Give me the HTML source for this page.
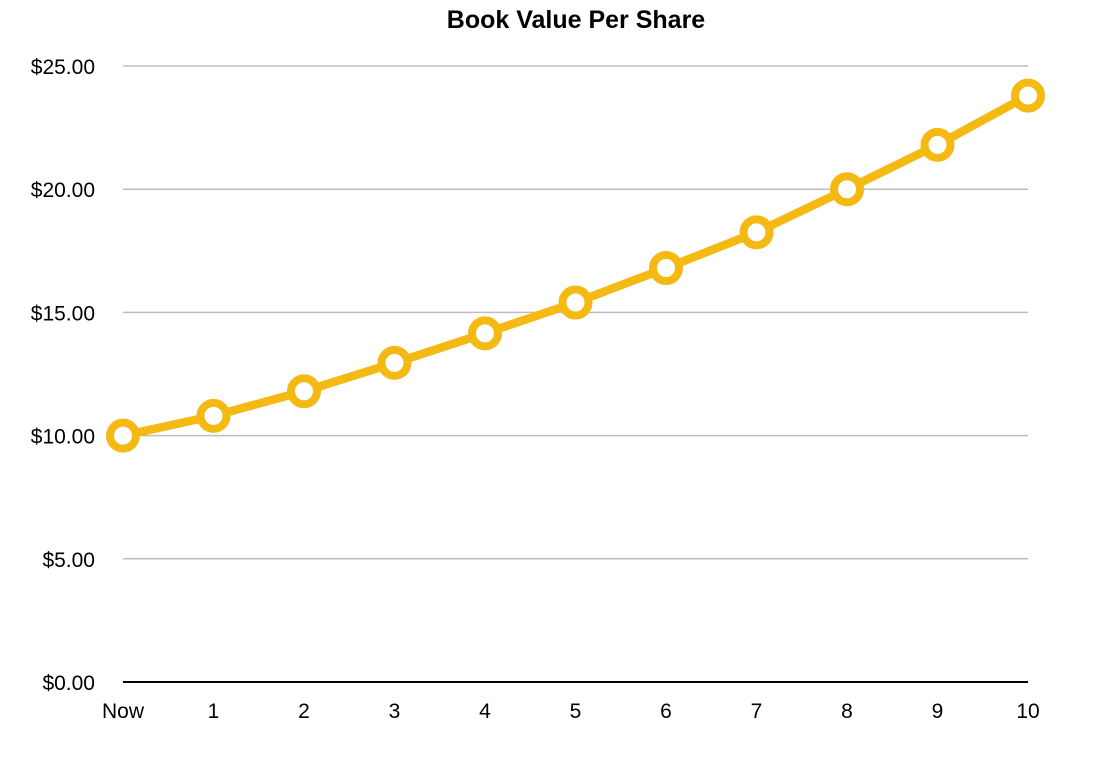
<!DOCTYPE html>
<html><head><meta charset="utf-8"><style>
body{margin:0;background:#fff;}
svg text{font-family:"Liberation Sans",Arial,sans-serif;}
</style></head><body>
<svg id="chart" width="1106" height="770">
<text x="576" y="28" text-anchor="middle" font-size="25" font-weight="bold" fill="#000">Book Value Per Share</text>
<g id="grid"></g><g id="yticks"></g><g id="xticks"></g><g id="series"></g>
</svg>
<script>
const categories=["Now","1","2","3","4","5","6","7","8","9","10"];
const values=[10.0,10.8,11.8,12.95,14.15,15.4,16.8,18.25,20.0,21.8,23.8];
const yTickValues=[0,5,10,15,20,25];
const yTickLabels=["$0.00","$5.00","$10.00","$15.00","$20.00","$25.00"];
const NS="http://www.w3.org/2000/svg";
const x0=123,x1=1028,y0=682,y1=66,ymax=25;
const xs=i=>x0+(x1-x0)*i/(categories.length-1);
const ys=v=>y0-(y0-y1)*v/ymax;
function mk(t,a,p){const e=document.createElementNS(NS,t);for(const k in a)e.setAttribute(k,a[k]);p.appendChild(e);return e;}
const grid=document.getElementById('grid'),yt=document.getElementById('yticks'),xt=document.getElementById('xticks'),se=document.getElementById('series');
yTickValues.forEach((v,i)=>{
 const l=mk('line',{x1:x0,x2:x1,y1:ys(v),y2:ys(v),stroke:v===0?'#000':'#bdbdbd','stroke-width':v===0?2:1.5},grid);
 
 
 const t=mk('text',{x:95,y:ys(v)+8,'text-anchor':'end','font-size':21,fill:'#000'},yt);
 t.textContent=yTickLabels[i];
 
 
});
categories.forEach((c,i)=>{
 const t=mk('text',{x:xs(i),y:718,'text-anchor':'middle','font-size':21,fill:'#000'},xt);
 t.textContent=c;
 
 
});
const pl=mk('polyline',{points:values.map((v,i)=>xs(i)+','+ys(v)).join(' '),fill:'none',stroke:'#F5B913','stroke-width':8.5,'stroke-linejoin':'round'},se);


values.forEach((v,i)=>{
 const c=mk('circle',{cx:xs(i),cy:ys(v),r:13,fill:'#fff',stroke:'#F5B913','stroke-width':8},se);
 
 
});
</script>
</body></html>
